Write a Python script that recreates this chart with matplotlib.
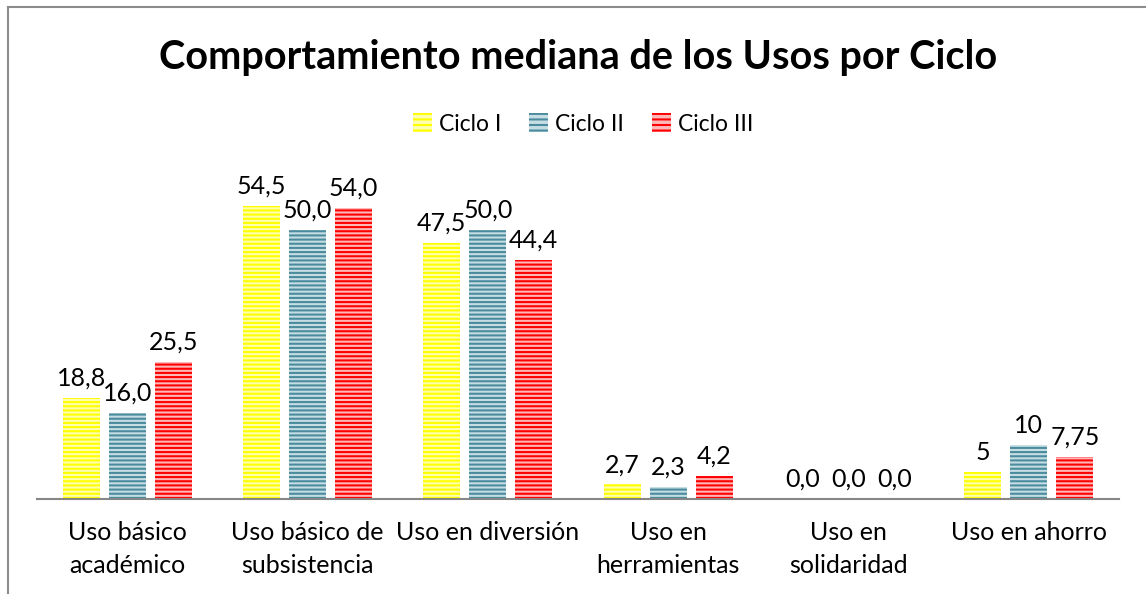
import matplotlib
matplotlib.use("Agg")
import matplotlib.pyplot as plt
import numpy as np
from matplotlib.lines import Line2D

plt.rcParams['font.family'] = ['Lato', 'DejaVu Sans']
plt.rcParams['hatch.linewidth'] = 1.5

categories = ["Uso básico\nacadémico", "Uso básico de\nsubsistencia", "Uso en diversión",
              "Uso en\nherramientas", "Uso en\nsolidaridad", "Uso en ahorro"]
series_names = ["Ciclo I", "Ciclo II", "Ciclo III"]
ciclo1 = [18.8, 54.5, 47.5, 2.7, 0.0, 5.0]
ciclo2 = [16.0, 50.0, 50.0, 2.3, 0.0, 10.0]
ciclo3 = [25.5, 54.0, 44.4, 4.2, 0.0, 7.75]
labels1 = ["18,8", "54,5", "47,5", "2,7", "0,0", "5"]
labels2 = ["16,0", "50,0", "50,0", "2,3", "0,0", "10"]
labels3 = ["25,5", "54,0", "44,4", "4,2", "0,0", "7,75"]

stripe = ["#FFFF00", "#4A8C9E", "#FF0000"]
tint = ["#FFFFB0", "#C6DDE4", "#FFB8B8"]

W, H = 1146, 594
fig = plt.figure(figsize=(W / 100, H / 100), dpi=100)
ax = fig.add_axes([37 / W, (H - 499) / H, 1082 / W, 323 / H])

x = np.arange(len(categories))
bw = 0.205
gap = 0.05
offsets = [-(bw + gap), 0, bw + gap]
for vals, labs, off, sc, tc in zip([ciclo1, ciclo2, ciclo3], [labels1, labels2, labels3],
                                   offsets, stripe, tint):
    bars = ax.bar(x + off, vals, bw, color=tc, edgecolor=sc, hatch='----', linewidth=0)
    for b, lab in zip(bars, labs):
        ax.annotate(lab, (b.get_x() + b.get_width() / 2, b.get_height()),
                    xytext=(0, 6), textcoords='offset points', ha='center', va='bottom',
                    fontsize=18, color='black')

ax.set_xlim(-0.5, len(categories) - 0.5)
ax.set_ylim(0, 60)
for s in ['top', 'right', 'left']:
    ax.spines[s].set_visible(False)
ax.spines['bottom'].set_color('#868686')
ax.spines['bottom'].set_linewidth(1.5)
ax.set_yticks([])
ax.set_xticks(x)
ax.set_xticklabels(categories, fontsize=18, linespacing=1.5)
ax.tick_params(axis='x', length=0, pad=16)

fig.text(578 / W, 1 - 57 / H, "Comportamiento mediana de los Usos por Ciclo",
         ha='center', va='center', fontsize=28.5, fontweight='bold')

handles = [plt.Rectangle((0, 0), 1, 1, facecolor=tc, edgecolor=sc, hatch='---', linewidth=0)
           for sc, tc in zip(stripe, tint)]
fig.legend(handles, series_names, loc='center', bbox_to_anchor=(583 / W, 1 - 124 / H),
           ncol=3, frameon=False, fontsize=16.5, handlelength=0.85, handleheight=0.85,
           handletextpad=0.3, columnspacing=1.2)

# outer frame (top and left)
fig.add_artist(Line2D([8 / W, 8 / W], [0, 1 - 7 / H], transform=fig.transFigure,
                      color='#8C8C8C', linewidth=1.5))
fig.add_artist(Line2D([8 / W, 1], [1 - 7 / H, 1 - 7 / H], transform=fig.transFigure,
                      color='#8C8C8C', linewidth=1.5))

fig.savefig("out.png", dpi=100)
